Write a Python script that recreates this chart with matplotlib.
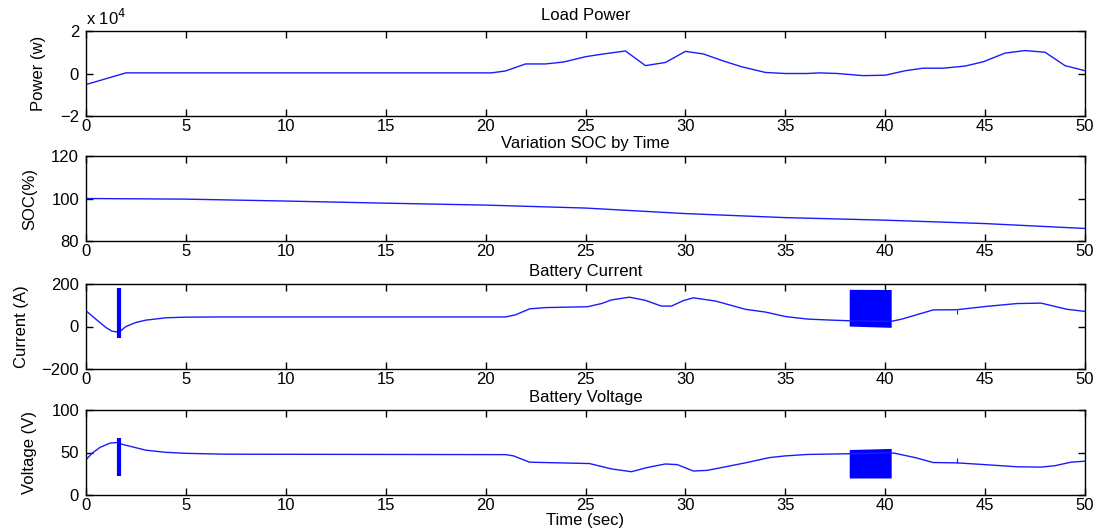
"""Battery / load simulation traces: power, SOC, current and voltage vs time."""

import matplotlib
matplotlib.use("Agg")
import matplotlib.pyplot as plt

plt.rcParams['font.family'] = ['Liberation Sans', 'DejaVu Sans']
plt.rcParams['font.size'] = 12
plt.rcParams['axes.unicode_minus'] = True

# load power (W)
power_t = [0, 2, 20.3, 21, 22, 23, 23.9, 25, 25.9, 27, 28, 29, 30, 30.9, 31.9, 32.8,
           34, 35, 36.1, 36.7, 37.6, 38.9, 40, 41, 41.9, 42.9, 44, 44.9, 46, 47, 48, 49, 50]
power_w = [-5200, 300, 300, 1200, 4500, 4500, 5400, 7900, 9200, 10600, 3700, 5200,
           10400, 9200, 5900, 3200, 500, 0, 0, 300, 0, -1000, -800, 1300, 2500, 2500,
           3500, 5500, 9600, 10800, 10000, 3700, 1300]

# state of charge (%)
soc_t = [0, 5, 10, 15, 20, 25, 30, 35, 40, 45, 50]
soc = [100, 99.7, 98.8, 97.8, 96.9, 95.5, 92.9, 91.0, 89.8, 88.2, 85.9]

# battery current (A)
current_t = [0, 0.5, 1, 1.3, 1.65, 1.75, 2, 2.5, 3, 4, 5, 7, 21, 21.5, 22.2, 23, 25.1,
             25.8, 26.3, 27.2, 28, 28.8, 29.3, 29.9, 30.4, 31.5, 33, 34, 35, 36.1, 37.3,
             38.2, 40.3, 40.8, 42.4, 43.6, 45, 46.6, 47.8, 49.1, 50]
current_a = [74, 34, -5, -22, -27, -19, 0, 19, 30, 41, 44, 45, 45, 55, 83, 89, 93,
             108, 125, 138, 123, 96, 96, 122, 135, 120, 81, 68, 47, 35, 30,
             27, 24, 34, 78, 79, 94, 108, 110, 81, 71]

# battery voltage (V)
voltage_t = [0, 0.3, 0.7, 1.2, 1.65, 1.75, 2.5, 3, 4, 5, 7, 21, 21.4, 22.2, 25.2, 26.3,
             27.3, 28.1, 29, 29.6, 30.4, 31.1, 33, 34.2, 35, 36.1, 38.1, 40.3, 40.5,
             41.5, 42.4, 43.6, 45, 46.6, 47.8, 48.5, 49.3, 50]
voltage_v = [41.5, 49, 56, 61, 62, 60, 55.6, 52.7, 50.2, 49, 48, 47.5, 46, 38.6, 37, 30.7,
             27.4, 32.4, 36.5, 35.7, 28.2, 29, 37.8, 44, 46, 47.7, 48.5, 49.5, 49,
             44, 38.2, 37.8, 35.7, 33.2, 32.8, 34.5, 38.6, 39.8]

# switching transients: short spike near start and oscillation band around 38-40 s
spike_t = [1.65, 43.6]
current_spike_lo = [-56, 57]
current_spike_hi = [180, 79]
voltage_spike_lo = [22, 37.8]
voltage_spike_hi = [67.6, 43]
band_t = [38.2, 40.3]
current_band_lo = [2, -4]
current_band_hi = [175, 174]
voltage_band_lo = [20, 20]
voltage_band_hi = [53.5, 54.8]

xticks = list(range(0, 51, 5))
blue = (0.1, 0.1, 1.0)

fig = plt.figure(figsize=(11.04, 5.31), dpi=100)
W, H = 1104, 531
left, right = 86, 1085
tops = [31, 156, 284, 410]
height = 85
axes = []
for top in tops:
    ax = fig.add_axes([left / W, 1 - (top + height) / H, (right - left) / W, height / H])
    axes.append(ax)

ax1, ax2, ax3, ax4 = axes

ax1.plot(power_t, power_w, color=blue, lw=1)
ax1.set_ylim(-20000, 20000)
ax1.set_yticks([-20000, 0, 20000])
ax1.set_yticklabels(['\u22122', '0', '2'])
ax1.text(0, 1.04, 'x 10$^4$', transform=ax1.transAxes, ha='left', va='bottom')
ax1.set_title('Load Power', fontsize=12, pad=8)
ax1.set_ylabel('Power (w)', labelpad=10)

ax2.plot(soc_t, soc, color=blue, lw=1)
ax2.set_ylim(80, 120)
ax2.set_yticks([80, 100, 120])
ax2.set_title('Variation SOC by Time', fontsize=12, pad=6)
ax2.set_ylabel('SOC(%)', labelpad=10)

ax3.plot(current_t, current_a, color=blue, lw=1)
ax3.vlines(spike_t[:1], current_spike_lo[:1], current_spike_hi[:1], color='b', lw=3)
ax3.vlines(spike_t[1:], current_spike_lo[1:], current_spike_hi[1:], color=blue, lw=0.8)
ax3.fill_between(band_t, current_band_lo, current_band_hi, color='b', lw=0)
ax3.set_ylim(-200, 200)
ax3.set_yticks([-200, 0, 200])
ax3.set_title('Battery Current', fontsize=12, pad=6)
ax3.set_ylabel('Current (A)', labelpad=9)

ax4.plot(voltage_t, voltage_v, color=blue, lw=1)
ax4.vlines(spike_t[:1], voltage_spike_lo[:1], voltage_spike_hi[:1], color='b', lw=3)
ax4.vlines(spike_t[1:], voltage_spike_lo[1:], voltage_spike_hi[1:], color=blue, lw=0.8)
ax4.fill_between(band_t, voltage_band_lo, voltage_band_hi, color='b', lw=0)
ax4.set_ylim(0, 100)
ax4.set_yticks([0, 50, 100])
ax4.set_title('Battery Voltage', fontsize=12, pad=6)
ax4.set_ylabel('Voltage (V)', labelpad=10)
ax4.set_xlabel('Time (sec)', labelpad=0)

for ax in axes:
    ax.set_xlim(0, 50)
    ax.set_xticks(xticks)
    ax.tick_params(direction='in', top=True, right=True, length=5, width=1)
    ax.tick_params(axis='x', pad=2)
    ax.tick_params(axis='y', pad=5)
    for s in ax.spines.values():
        s.set_linewidth(1)

fig.savefig('out.png', dpi=100)
